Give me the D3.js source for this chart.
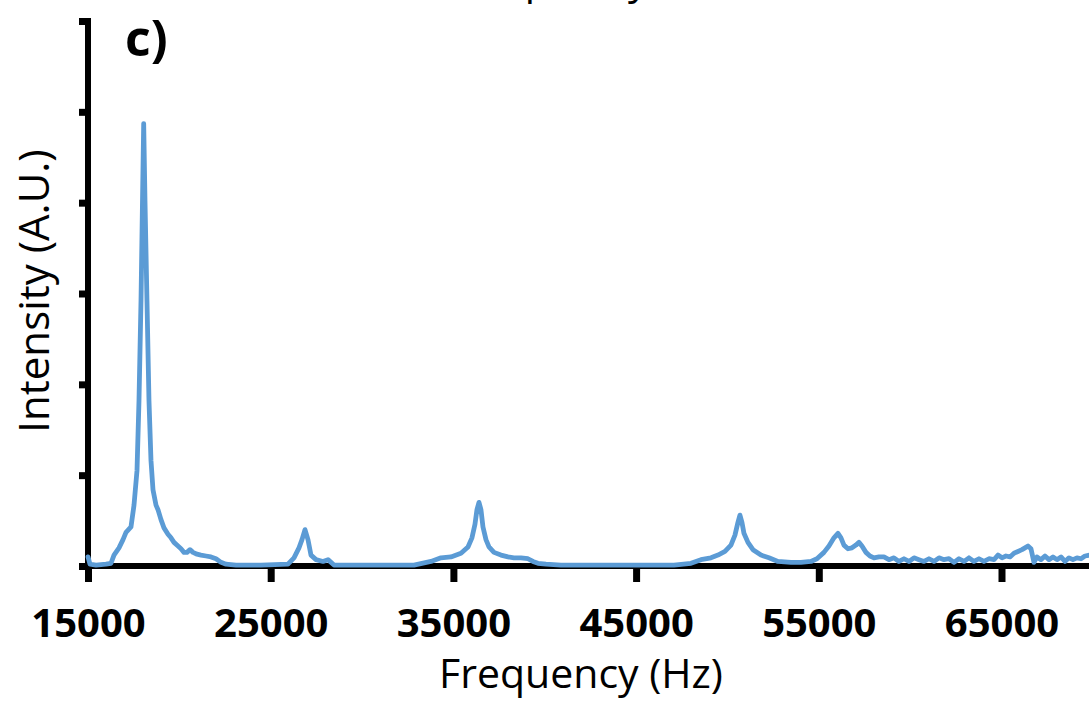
<!DOCTYPE html>
<html>
<head>
<meta charset="utf-8">
<script src="https://cdn.jsdelivr.net/npm/d3@7"></script>
<style>
  html, body { margin: 0; padding: 0; background: #fff; overflow: hidden; }
  svg { display: block; }
</style>
</head>
<body>
<svg id="chart" width="1089" height="701"></svg>
<script>
// ---- data ----
const freqHz = [
  15000, 15109, 15438, 15985, 16259, 16423, 16697, 16916, 17080, 17353,
  17518, 17682, 17791, 17901, 17983, 18048, 18119, 18228, 18338, 18448,
  18557, 18722, 18831, 18995, 19159, 19378, 19543, 19707, 19926, 20090,
  20254, 20418, 20582, 20747, 20966, 21185, 21458, 21732, 22006, 22280,
  22553, 23100, 24469, 25946, 26275, 26548, 26713, 26877, 27041, 27205,
  27479, 27862, 28136, 28464, 31036, 32842, 33773, 34320, 34867, 35415,
  35798, 36016, 36181, 36290, 36400, 36509, 36619, 36783, 36947, 37221,
  37604, 37987, 38315, 38698, 39081, 39355, 39629, 40067, 40888, 44000,
  47072, 48003, 48550, 49097, 49480, 49864, 50192, 50411, 50575, 50684,
  50794, 50903, 51122, 51396, 51834, 52272, 52764, 53476, 54023, 54570,
  54899, 55282, 55556, 55830, 56049, 56213, 56377, 56596, 56815, 57034,
  57198, 57362, 57581, 57800, 58019, 58293, 58566, 58840, 59114, 59388,
  59662, 59935, 60209, 60483, 60757, 61030, 61304, 61578, 61851, 62125,
  62399, 62673, 62946, 63220, 63494, 63767, 64041, 64315, 64589, 64808,
  65027, 65246, 65464, 65683, 65902, 66121, 66285, 66449, 66613, 66778,
  66942, 67161, 67380, 67599, 67818, 68036, 68255, 68474, 68693, 68912,
  69131, 69350, 69569, 69843
];
const intensity = [
  0.10, 0.02, 0.01, 0.02, 0.03, 0.12, 0.20, 0.29, 0.37, 0.43,
  0.67, 1.05, 1.82, 2.92, 4.02, 4.87, 4.02, 2.92, 1.82, 1.16,
  0.84, 0.67, 0.62, 0.51, 0.42, 0.35, 0.31, 0.26, 0.22, 0.19,
  0.15, 0.15, 0.18, 0.15, 0.13, 0.12, 0.11, 0.10, 0.08, 0.04,
  0.02, 0.01, 0.01, 0.02, 0.09, 0.20, 0.29, 0.40, 0.29, 0.12,
  0.07, 0.05, 0.07, 0.01, 0.01, 0.01, 0.05, 0.09, 0.10, 0.14,
  0.21, 0.31, 0.46, 0.62, 0.70, 0.62, 0.43, 0.29, 0.21, 0.15,
  0.12, 0.10, 0.09, 0.09, 0.08, 0.05, 0.03, 0.02, 0.01, 0.01,
  0.01, 0.03, 0.07, 0.09, 0.12, 0.16, 0.23, 0.34, 0.48, 0.56,
  0.48, 0.36, 0.26, 0.18, 0.12, 0.09, 0.05, 0.04, 0.04, 0.05,
  0.08, 0.15, 0.22, 0.31, 0.36, 0.31, 0.23, 0.19, 0.20, 0.23,
  0.26, 0.22, 0.15, 0.11, 0.09, 0.10, 0.10, 0.07, 0.09, 0.05,
  0.08, 0.05, 0.09, 0.07, 0.05, 0.08, 0.05, 0.09, 0.07, 0.08,
  0.04, 0.08, 0.05, 0.09, 0.05, 0.08, 0.05, 0.08, 0.07, 0.12,
  0.09, 0.11, 0.10, 0.14, 0.16, 0.18, 0.20, 0.22, 0.19, 0.04,
  0.10, 0.07, 0.11, 0.07, 0.10, 0.07, 0.10, 0.05, 0.09, 0.07,
  0.09, 0.08, 0.11, 0.12
];
const xTickValues = [15000, 25000, 35000, 45000, 55000, 65000];
const yTickValues = [0, 1, 2, 3, 4, 5, 6];
const xTitle = "Frequency (Hz)";
const yTitle = "Intensity (A.U.)";
const panelLabel = "c)";

// ---- layout ----
const W = 1089, H = 701;
const svg = d3.select("#chart");
const x = d3.scaleLinear().domain([15000, 70000]).range([88, 88 + 5.5 * 182.7]);
const y = d3.scaleLinear().domain([0, 6]).range([566, 21]);

const FONT = "'Open Sans', 'DejaVu Sans', sans-serif";

// y axis
const gy = svg.append("g").attr("transform", `translate(${x(15000)},0)`)
  .call(d3.axisLeft(y).tickValues(yTickValues).tickSizeInner(9).tickSizeOuter(0).tickFormat(""));
gy.select(".domain").attr("stroke", "#000").attr("stroke-width", 6)
  .attr("d", `M0,${y(6) - 3}V${y(0)}`);
gy.selectAll(".tick line").attr("stroke", "#000").attr("stroke-width", 7);

// x axis
const gx = svg.append("g").attr("transform", `translate(0,${y(0)})`)
  .call(d3.axisBottom(x).tickValues(xTickValues).tickSizeInner(16).tickSizeOuter(0)
    .tickFormat(d3.format("d")));
gx.select(".domain").attr("stroke", "#000").attr("stroke-width", 6)
  .attr("d", `M${x(15000) - 3},0H${W + 10}`);
gx.selectAll(".tick line").attr("stroke", "#000").attr("stroke-width", 7);
gx.selectAll(".tick text")
  .attr("y", 71).attr("dy", 0)
  .attr("fill", "#000")
  .style("font-family", FONT)
  .style("font-weight", "700")
  .style("font-size", "40px");

// line
const data = freqHz.map((f, i) => ({ f, v: intensity[i] }));
const line = d3.line().x(d => x(d.f)).y(d => y(d.v));
svg.append("path").datum(data)
  .attr("d", line)
  .attr("fill", "none")
  .attr("stroke", "#5B9BD5")
  .attr("stroke-width", 4.8)
  .attr("stroke-linejoin", "round")
  .attr("stroke-linecap", "round");

// axis titles
svg.append("text")
  .attr("x", 581).attr("y", 688)
  .attr("text-anchor", "middle")
  .style("font-family", FONT).style("font-size", "41px").attr("fill", "#000")
  .text(xTitle);

// cut-off title of the panel above (only descenders visible in the reference)
svg.append("text")
  .attr("x", 591).attr("y", -6)
  .attr("text-anchor", "middle")
  .style("font-family", FONT).style("font-size", "41px").attr("fill", "#000")
  .text(xTitle);

svg.append("text")
  .attr("transform", `translate(49,291) rotate(-90)`)
  .attr("text-anchor", "middle")
  .style("font-family", FONT).style("font-size", "42px").attr("fill", "#000")
  .text(yTitle);

// panel label
svg.append("text")
  .attr("x", 125).attr("y", 56)
  .style("font-family", FONT).style("font-weight", "700").style("font-size", "50px").attr("fill", "#000")
  .text(panelLabel);
</script>
</body>
</html>
